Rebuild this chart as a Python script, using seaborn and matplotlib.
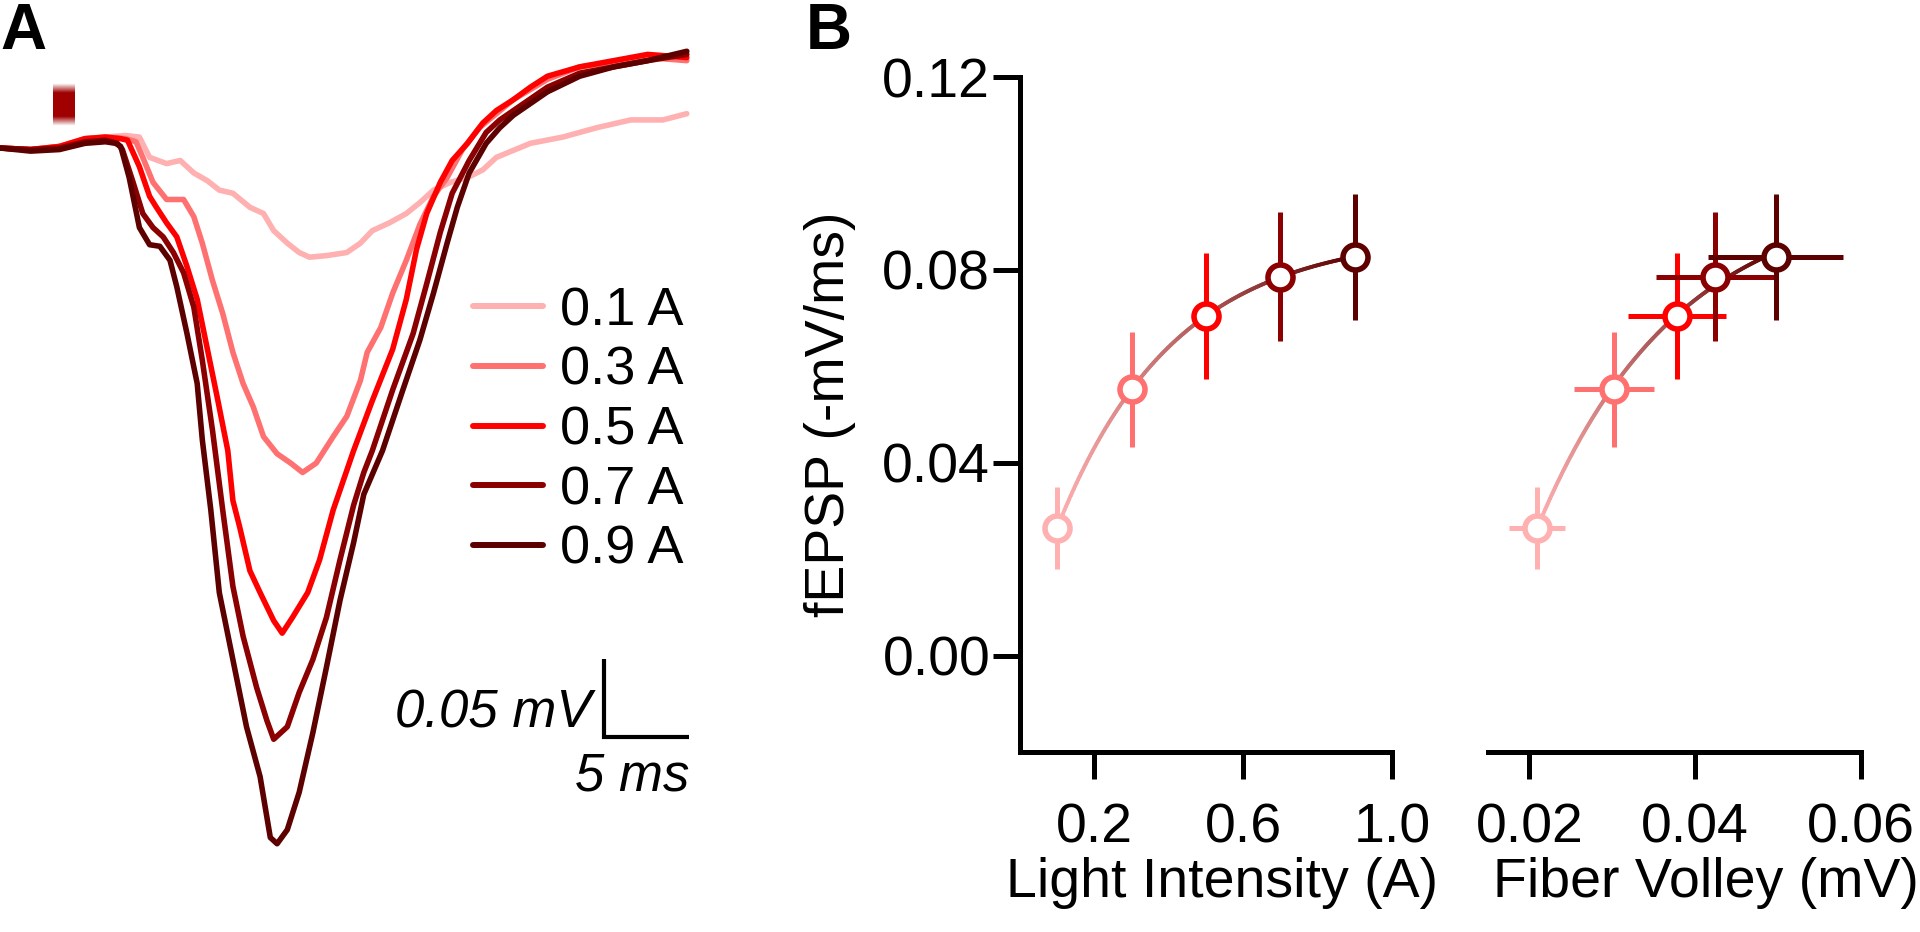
import numpy as np
import pandas as pd
import matplotlib
matplotlib.use('Agg')
import matplotlib.pyplot as plt
import seaborn as sns
from matplotlib.collections import LineCollection
from matplotlib.colors import LinearSegmentedColormap, to_rgb
from matplotlib.ticker import FormatStrFormatter

# ---- data ----
intensities = ['0.1 A', '0.3 A', '0.5 A', '0.7 A', '0.9 A']
colors = ['#FFB0B0', '#FF7070', '#FF0000', '#8B0000', '#5C0000']

# panel A: fEPSP traces, time (ms) and voltage (mV)
t_01 = [0.0, 1.8, 3.5, 5.0, 6.2, 7.4, 8.2, 8.8, 9.8, 10.6, 11.4, 12.2, 12.9, 13.7, 14.7, 15.5,
        16.1, 16.9, 17.6, 18.2, 19.2, 20.4, 21.2, 21.9, 22.9, 23.9, 24.7, 25.5, 26.5, 27.5,
        28.4, 29.2, 31.2, 33.1, 35.1, 37.1, 39.0, 40.4]
v_01 = [0.000, -0.001, 0.001, 0.005, 0.007, 0.008, 0.007, -0.006, -0.010, -0.008, -0.016,
        -0.021, -0.027, -0.029, -0.038, -0.042, -0.053, -0.061, -0.067, -0.070, -0.069, -0.067,
        -0.061, -0.053, -0.048, -0.042, -0.035, -0.027, -0.022, -0.019, -0.014, -0.006, 0.003,
        0.007, 0.013, 0.018, 0.018, 0.022]

t_03 = [0.0, 1.8, 3.5, 5.0, 6.2, 7.4, 8.0, 8.4, 9.0, 9.8, 10.8, 11.4, 11.9, 12.5, 13.1, 13.7,
        14.3, 14.9, 15.5, 16.3, 17.1, 17.8, 18.6, 19.6, 20.4, 21.2, 21.6, 22.4, 23.1, 23.9,
        24.7, 25.5, 26.3, 27.2, 28.2, 29.2, 30.2, 32.2, 34.1, 36.1, 38.1, 40.4]
v_03 = [0.000, -0.001, 0.001, 0.006, 0.007, 0.006, 0.004, -0.006, -0.022, -0.033, -0.033,
        -0.044, -0.061, -0.085, -0.106, -0.131, -0.151, -0.166, -0.185, -0.196, -0.202, -0.208,
        -0.202, -0.185, -0.172, -0.149, -0.131, -0.115, -0.093, -0.072, -0.049, -0.031, -0.019,
        -0.001, 0.013, 0.022, 0.031, 0.044, 0.052, 0.055, 0.058, 0.056]

t_05 = [0.0, 1.8, 3.5, 5.0, 6.2, 7.1, 7.5, 8.2, 8.8, 9.2, 9.8, 10.4, 11.0, 11.6, 12.2, 12.8,
        13.4, 13.7, 14.1, 14.7, 15.3, 16.1, 16.6, 17.2, 18.1, 18.8, 19.6, 20.2, 20.8, 21.9,
        23.1, 23.9, 24.5, 25.1, 25.9, 26.6, 27.5, 28.4, 29.2, 30.2, 31.2, 32.2, 34.1, 36.1,
        38.1, 40.4]
v_05 = [0.000, -0.001, 0.001, 0.006, 0.007, 0.006, 0.005, -0.012, -0.031, -0.038, -0.048,
        -0.057, -0.076, -0.097, -0.129, -0.161, -0.194, -0.226, -0.243, -0.271, -0.285, -0.303,
        -0.311, -0.301, -0.285, -0.264, -0.232, -0.213, -0.194, -0.162, -0.129, -0.097, -0.065,
        -0.042, -0.022, -0.008, 0.003, 0.016, 0.024, 0.031, 0.039, 0.046, 0.052, 0.056, 0.060,
        0.058]

t_07 = [0.0, 1.8, 3.5, 5.0, 6.2, 6.9, 7.2, 7.8, 8.4, 9.0, 9.6, 10.2, 10.8, 11.4, 11.9, 12.5,
        13.1, 13.7, 14.3, 15.1, 15.7, 16.1, 16.9, 17.6, 18.4, 19.2, 20.0, 20.8, 21.4, 21.9,
        23.1, 24.3, 25.1, 25.9, 26.6, 27.6, 28.6, 29.4, 30.2, 32.2, 34.1, 36.1, 38.1, 40.4]
v_07 = [0.000, -0.001, 0.000, 0.004, 0.005, 0.003, -0.001, -0.021, -0.042, -0.051, -0.057,
        -0.067, -0.080, -0.102, -0.136, -0.181, -0.232, -0.281, -0.313, -0.346, -0.367, -0.379,
        -0.371, -0.349, -0.328, -0.301, -0.264, -0.229, -0.208, -0.194, -0.155, -0.119, -0.087,
        -0.054, -0.029, -0.008, 0.010, 0.018, 0.024, 0.039, 0.048, 0.052, 0.056, 0.060]

t_09 = [0.0, 1.8, 3.5, 5.0, 6.2, 6.8, 7.1, 7.6, 8.2, 8.8, 9.4, 10.0, 10.4, 11.0, 11.6, 11.9,
        12.4, 12.9, 13.7, 14.5, 15.3, 15.9, 16.3, 16.9, 17.6, 18.4, 19.2, 20.0, 20.8, 21.4,
        22.5, 23.7, 24.7, 25.5, 26.3, 26.9, 27.6, 28.6, 29.4, 30.2, 32.2, 34.1, 36.1, 38.1, 40.4]
v_09 = [0.000, -0.002, -0.001, 0.003, 0.004, 0.003, 0.001, -0.019, -0.051, -0.062, -0.063,
        -0.072, -0.089, -0.119, -0.151, -0.187, -0.232, -0.285, -0.328, -0.371, -0.403, -0.442,
        -0.446, -0.437, -0.413, -0.375, -0.333, -0.290, -0.253, -0.222, -0.194, -0.155, -0.123,
        -0.093, -0.061, -0.038, -0.016, 0.003, 0.013, 0.021, 0.036, 0.046, 0.052, 0.056, 0.062]

stim_ms = (3.1, 4.35)      # light pulse
stim_mv = (0.014, 0.041)

# panel B: input-output
light_a = [0.1, 0.3, 0.5, 0.7, 0.9]
fepsp = [0.0265, 0.0552, 0.0704, 0.0786, 0.0827]
fepsp_err = [0.0085, 0.0120, 0.0131, 0.0133, 0.0131]
fiber_volley = [0.0209, 0.0302, 0.0378, 0.0424, 0.0497]
fiber_volley_err = [0.0034, 0.0048, 0.0059, 0.0071, 0.0081]


def sat_fit(x, y, n=200):
    # y = a + b*exp(-k*x), best k by grid search
    x = np.asarray(x)
    y = np.asarray(y)
    x0, span = x.min(), x.max() - x.min()
    xs = (x - x0) / span
    best = None
    for k in np.linspace(0.05, 12, 600):
        A = np.column_stack([np.ones_like(xs), np.exp(-k * xs)])
        coef = np.linalg.lstsq(A, y, rcond=None)[0]
        err = np.sum((A @ coef - y) ** 2)
        if best is None or err < best[0]:
            best = (err, k, coef)
    _, k, coef = best
    xf = np.linspace(0, 1, n)
    return x0 + xf * span, coef[0] + coef[1] * np.exp(-k * xf)


def gradient_line(ax, x, y, cmap):
    pts = np.column_stack([x, y]).reshape(-1, 1, 2)
    segs = np.concatenate([pts[:-1], pts[1:]], axis=1)
    lc = LineCollection(segs, cmap=cmap, linewidth=2.8, zorder=1, capstyle='round')
    lc.set_array(np.linspace(0, 1, len(segs)))
    ax.add_collection(lc)


sns.set_theme(style='ticks')
plt.rcParams['font.family'] = ['Liberation Sans', 'DejaVu Sans']
plt.rcParams.update({'text.color': 'black', 'axes.labelcolor': 'black',
                     'xtick.color': 'black', 'ytick.color': 'black',
                     'axes.edgecolor': 'black'})

fig = plt.figure(figsize=(19.2, 9.32), dpi=100)
W, H = 1920, 932

# ---- panel A ----
px_ms, px_mv, base_px = 17.0, 1560.0, 148.0
ax_a = fig.add_axes([0, 0, 730 / W, 1])
traces = pd.concat([
    pd.DataFrame({'time': t, 'mv': v, 'intensity': lab})
    for lab, t, v in zip(intensities, [t_01, t_03, t_05, t_07, t_09],
                         [v_01, v_03, v_05, v_07, v_09])
])
sns.lineplot(data=traces, x='time', y='mv', hue='intensity', hue_order=intensities,
             palette=dict(zip(intensities, colors)), estimator=None, sort=False,
             linewidth=4, ax=ax_a)

grad = np.zeros((60, 1, 4))
grad[..., :3] = to_rgb('#A00000')
s = np.linspace(0, 1, 60)
grad[:, 0, 3] = np.clip((0.5 - np.abs(s - 0.5)) / 0.22, 0, 1)
ax_a.imshow(grad, extent=[stim_ms[0], stim_ms[1], stim_mv[0], stim_mv[1]],
            aspect='auto', interpolation='bilinear', zorder=3)

ax_a.set_xlim(0, 730 / px_ms)
ax_a.set_ylim(-(H - base_px) / px_mv, base_px / px_mv)
ax_a.axis('off')

# scale bar
sb_t, sb_v = 35.5, -0.3776
ax_a.plot([sb_t, sb_t, sb_t + 5], [sb_v + 0.05, sb_v, sb_v], color='black', lw=3,
          solid_joinstyle='miter', solid_capstyle='butt')
ax_a.text(sb_t - 0.7, sb_v + 0.006, '0.05 mV', style='italic', fontsize=38,
          ha='right', va='baseline')
ax_a.text(sb_t + 1.7, sb_v - 0.034, '5 ms', style='italic', fontsize=38,
          ha='center', va='baseline')

handles, labels = ax_a.get_legend_handles_labels()
for h in handles:
    h.set_linewidth(4.3)
ax_a.legend(handles, labels, loc='upper left', bbox_to_anchor=(473 / W, 1 - 286 / H),
            bbox_transform=fig.transFigure, frameon=False, fontsize=39,
            handlelength=1.3, handletextpad=0.3, labelspacing=0.18,
            borderpad=0, borderaxespad=0)

# ---- panel B ----
cmap = LinearSegmentedColormap.from_list('ramp', [colors[0], colors[-1]])
bottom, height = 1 - 752 / H, 675 / H
ax_b1 = fig.add_axes([1020 / W, bottom, 372 / W, height])
ax_b2 = fig.add_axes([1488 / W, bottom, 373 / W, height], sharey=ax_b1)

for ax, xv, xerr in [(ax_b1, light_a, None), (ax_b2, fiber_volley, fiber_volley_err)]:
    fx, fy = sat_fit(xv, fepsp)
    gradient_line(ax, fx, fy, cmap)
    for i, c in enumerate(colors):
        ax.errorbar(xv[i], fepsp[i], yerr=fepsp_err[i],
                    xerr=None if xerr is None else xerr[i],
                    fmt='none', ecolor=c, elinewidth=3.6, capsize=0, zorder=2)
    for i, c in enumerate(colors):
        ax.plot(xv[i], fepsp[i], 'o', ms=18, mfc='white', mec=c, mew=4, zorder=3)
    for side in ['top', 'right']:
        ax.spines[side].set_visible(False)
    for sp in ax.spines.values():
        sp.set_linewidth(3.6)
    ax.tick_params(direction='out', length=19.5, width=3.6, labelsize=40)
    ax.tick_params(axis='x', pad=17)
    ax.tick_params(axis='y', pad=2)

ax_b1.set_ylim(-0.02, 0.12)
ax_b1.set_yticks([0.0, 0.04, 0.08, 0.12])
ax_b1.yaxis.set_major_formatter(FormatStrFormatter('%.2f'))
ax_b1.set_xlim(0, 1.0)
ax_b1.set_xticks([0.2, 0.6, 1.0])
ax_b1.xaxis.set_major_formatter(FormatStrFormatter('%.1f'))
ax_b1.set_ylabel('fEPSP (-mV/ms)', fontsize=40)
ax_b1.yaxis.set_label_coords(-0.44, 0.5)
ax_b1.set_xlabel('Light Intensity (A)', fontsize=40)
ax_b1.xaxis.set_label_coords(0.543, -0.156)

ax_b2.spines['left'].set_visible(False)
ax_b2.tick_params(axis='y', left=False, labelleft=False)
ax_b2.set_xlim(0.015, 0.06)
ax_b2.set_xticks([0.02, 0.04, 0.06])
ax_b2.xaxis.set_major_formatter(FormatStrFormatter('%.2f'))
ax_b2.set_xlabel('Fiber Volley (mV)', fontsize=40)
ax_b2.xaxis.set_label_coords(0.584, -0.156)

for ax in (ax_b1, ax_b2):
    ax.set_facecolor('none')

fig.text(0.0, 1 - 49 / H, 'A', fontsize=46, fontweight='bold', ha='left', va='baseline')
fig.text(806 / W, 1 - 49 / H, 'B', fontsize=46, fontweight='bold', ha='left', va='baseline')

fig.savefig('out.png', dpi=100, facecolor='white')
